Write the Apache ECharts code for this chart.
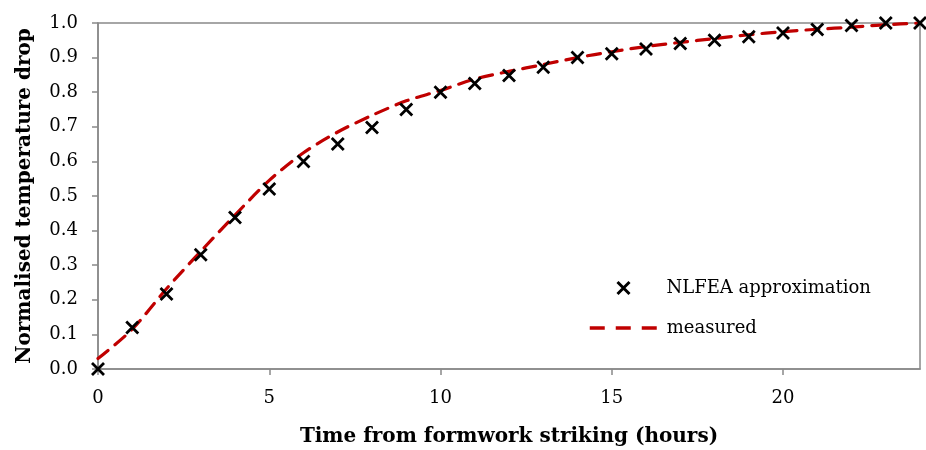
<!DOCTYPE html>
<html>
<head>
<meta charset="utf-8">
<script src="https://cdn.jsdelivr.net/npm/echarts@6/dist/echarts.min.js"></script>
<style>html,body{margin:0;padding:0;background:#fff}#c{width:926px;height:450px}</style>
</head>
<body>
<div id="c"></div>
<script>
// Data
const hours = [0,1,2,3,4,5,6,7,8,9,10,11,12,13,14,15,16,17,18,19,20,21,22,23,24];
const nlfea = [0.0,0.12,0.217,0.33,0.438,0.52,0.60,0.65,0.698,0.75,0.80,0.825,0.848,0.872,0.90,0.911,0.925,0.941,0.95,0.96,0.971,0.981,0.993,1.0,1.0];
const measured = [0.03,0.115,0.232,0.34,0.445,0.545,0.625,0.685,0.733,0.775,0.805,0.838,0.86,0.88,0.90,0.917,0.932,0.944,0.955,0.966,0.975,0.982,0.988,0.995,1.0];
const xTicks = [0,5,10,15,20];
const seriesNames = ['NLFEA approximation','measured'];
const xTitle = 'Time from formwork striking (hours)';
const yTitle = 'Normalised temperature drop';

const FONT = 'DejaVu Serif';
const AXIS_GRAY = '#898989';
const RED = '#c00000';
const XPATH = 'path://M0,0L10,10M10,0L0,10';

const chart = echarts.init(document.getElementById('c'), null, {renderer:'canvas'});
chart.setOption({
  animation: false,
  backgroundColor: '#fff',
  grid: {left: 98, right: 6, top: 23, bottom: 81, show: true, borderColor: AXIS_GRAY, borderWidth: 1.5, backgroundColor: 'transparent', outerBoundsMode: 'none', containLabel: false},
  legend: [
    {data: [seriesNames[0]], left: 616, top: 279, padding: 0, orient: 'vertical', itemWidth: 12, itemHeight: 12,
     itemStyle: {color: 'transparent', borderColor: '#000', borderWidth: 3},
     textStyle: {fontFamily: FONT, fontSize: 18, color: '#000', padding: [0,0,0,32]}},
    {data: [seriesNames[1]], left: 588, top: 319, padding: 0, orient: 'vertical', itemWidth: 70, itemHeight: 14,
     itemStyle: {opacity: 0},
     lineStyle: {color: RED, width: 3.5, type: [15, 11], cap: 'butt', opacity: 1},
     textStyle: {fontFamily: FONT, fontSize: 18, color: '#000', padding: [0,0,0,2]}}
  ],
  xAxis: {
    type: 'value', min: 0, max: 24, interval: 5,
    name: xTitle, nameLocation: 'middle', nameGap: 58,
    nameTextStyle: {fontFamily: FONT, fontSize: 20, fontWeight: 'bold', color: '#000'},
    axisLine: {show: true, lineStyle: {color: AXIS_GRAY, width: 1.5}},
    axisTick: {show: true, inside: false, length: 6, lineStyle: {color: AXIS_GRAY, width: 1.5}, customValues: xTicks},
    axisLabel: {fontFamily: FONT, fontSize: 18, color: '#000', margin: 20, customValues: xTicks},
    splitLine: {show: false}
  },
  yAxis: {
    type: 'value', min: 0, max: 1, interval: 0.1,
    name: yTitle, nameLocation: 'middle', nameGap: 63,
    nameTextStyle: {fontFamily: FONT, fontSize: 20, fontWeight: 'bold', color: '#000'},
    axisLine: {show: true, lineStyle: {color: AXIS_GRAY, width: 1.5}},
    axisTick: {show: true, inside: false, length: 6, lineStyle: {color: AXIS_GRAY, width: 1.5}},
    axisLabel: {fontFamily: FONT, fontSize: 18, color: '#000', margin: 20, formatter: v => v.toFixed(1)},
    splitLine: {show: false}
  },
  series: [
    {
      name: seriesNames[1], type: 'line', data: hours.map((h,i)=>[h, measured[i]]),
      showSymbol: false, symbol: 'none', smooth: 0.3, z: 2,
      lineStyle: {color: RED, width: 3.2, type: [13, 9], cap: 'round'},
      itemStyle: {color: RED}
    },
    {
      name: seriesNames[0], type: 'scatter', data: hours.map((h,i)=>[h, nlfea[i]]),
      symbol: XPATH, symbolSize: 12, z: 3,
      itemStyle: {color: 'transparent', borderColor: '#000', borderWidth: 2.8, opacity: 1}
    }
  ]
});
</script>
</body>
</html>
